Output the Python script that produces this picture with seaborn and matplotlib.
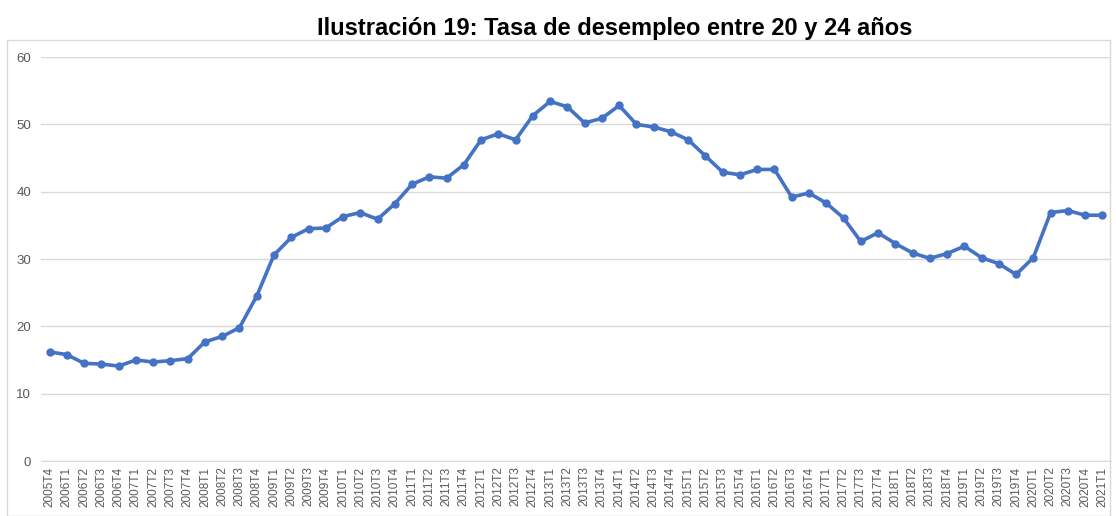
import pandas as pd
import matplotlib.pyplot as plt
import matplotlib.patches as mpatches
import seaborn as sns

# Quarter labels and unemployment rate (20-24 years)
years = list(range(2006, 2021))
quarters = ['2005T4'] + [f'{y}T{q}' for y in years for q in range(1, 5)] + ['2021T1']
tasa = [16.2, 15.8, 14.5, 14.4, 14.1, 15.0, 14.7, 14.9, 15.2, 17.7,
        18.5, 19.8, 24.5, 30.6, 33.2, 34.5, 34.6, 36.3, 36.9, 35.9,
        38.2, 41.1, 42.2, 42.0, 44.0, 47.7, 48.6, 47.7, 51.3, 53.4,
        52.6, 50.2, 50.9, 52.8, 50.0, 49.6, 48.9, 47.7, 45.3, 42.9,
        42.5, 43.3, 43.3, 39.2, 39.8, 38.3, 36.1, 32.6, 33.9, 32.3,
        30.9, 30.1, 30.8, 31.9, 30.2, 29.3, 27.7, 30.2, 36.9, 37.2,
        36.5, 36.5]
y_ticks = [0, 10, 20, 30, 40, 50, 60]

df = pd.DataFrame({'pos': range(len(quarters)), 'trimestre': quarters, 'tasa': tasa})

sns.set_style('white')
plt.rcParams['font.family'] = ['Liberation Sans', 'DejaVu Sans']

W, H = 1116, 516
fig = plt.figure(figsize=(W / 100, H / 100), dpi=100)

# light frame around the chart area
fig.patches.append(mpatches.Rectangle((7 / W, 0), 1103 / W, 1 - 40 / H,
                                      transform=fig.transFigure, fill=False,
                                      edgecolor='#D9D9D9', linewidth=1))

ax = fig.add_axes([41 / W, 1 - 461 / H, 1070 / W, 404 / H])
sns.lineplot(data=df, x='pos', y='tasa', ax=ax, color='#4472C4',
             linewidth=2.6, marker='o', markersize=6, markeredgewidth=0)

ax.set_xlim(-0.5, len(quarters) - 0.5)
ax.set_ylim(0, 60)
ax.set_yticks(y_ticks)
ax.set_xticks(range(len(quarters)))
ax.set_xticklabels(quarters, rotation=90, fontsize=8.5, color='#595959')
ax.tick_params(axis='y', labelsize=9.5, labelcolor='#595959', pad=7)
ax.tick_params(axis='x', pad=4)
ax.tick_params(length=0)
ax.grid(axis='y', color='#D9D9D9', linewidth=1)
ax.set_axisbelow(True)
for side in ['top', 'right', 'left']:
    ax.spines[side].set_visible(False)
ax.spines['bottom'].set_color('#D9D9D9')
ax.set_xlabel('')
ax.set_ylabel('')

fig.text(615 / W, 1 - 28 / H, 'Ilustración 19: Tasa de desempleo entre 20 y 24 años',
         ha='center', va='center', fontsize=17, fontweight='bold', color='black')

fig.savefig('out.png', dpi=100)
